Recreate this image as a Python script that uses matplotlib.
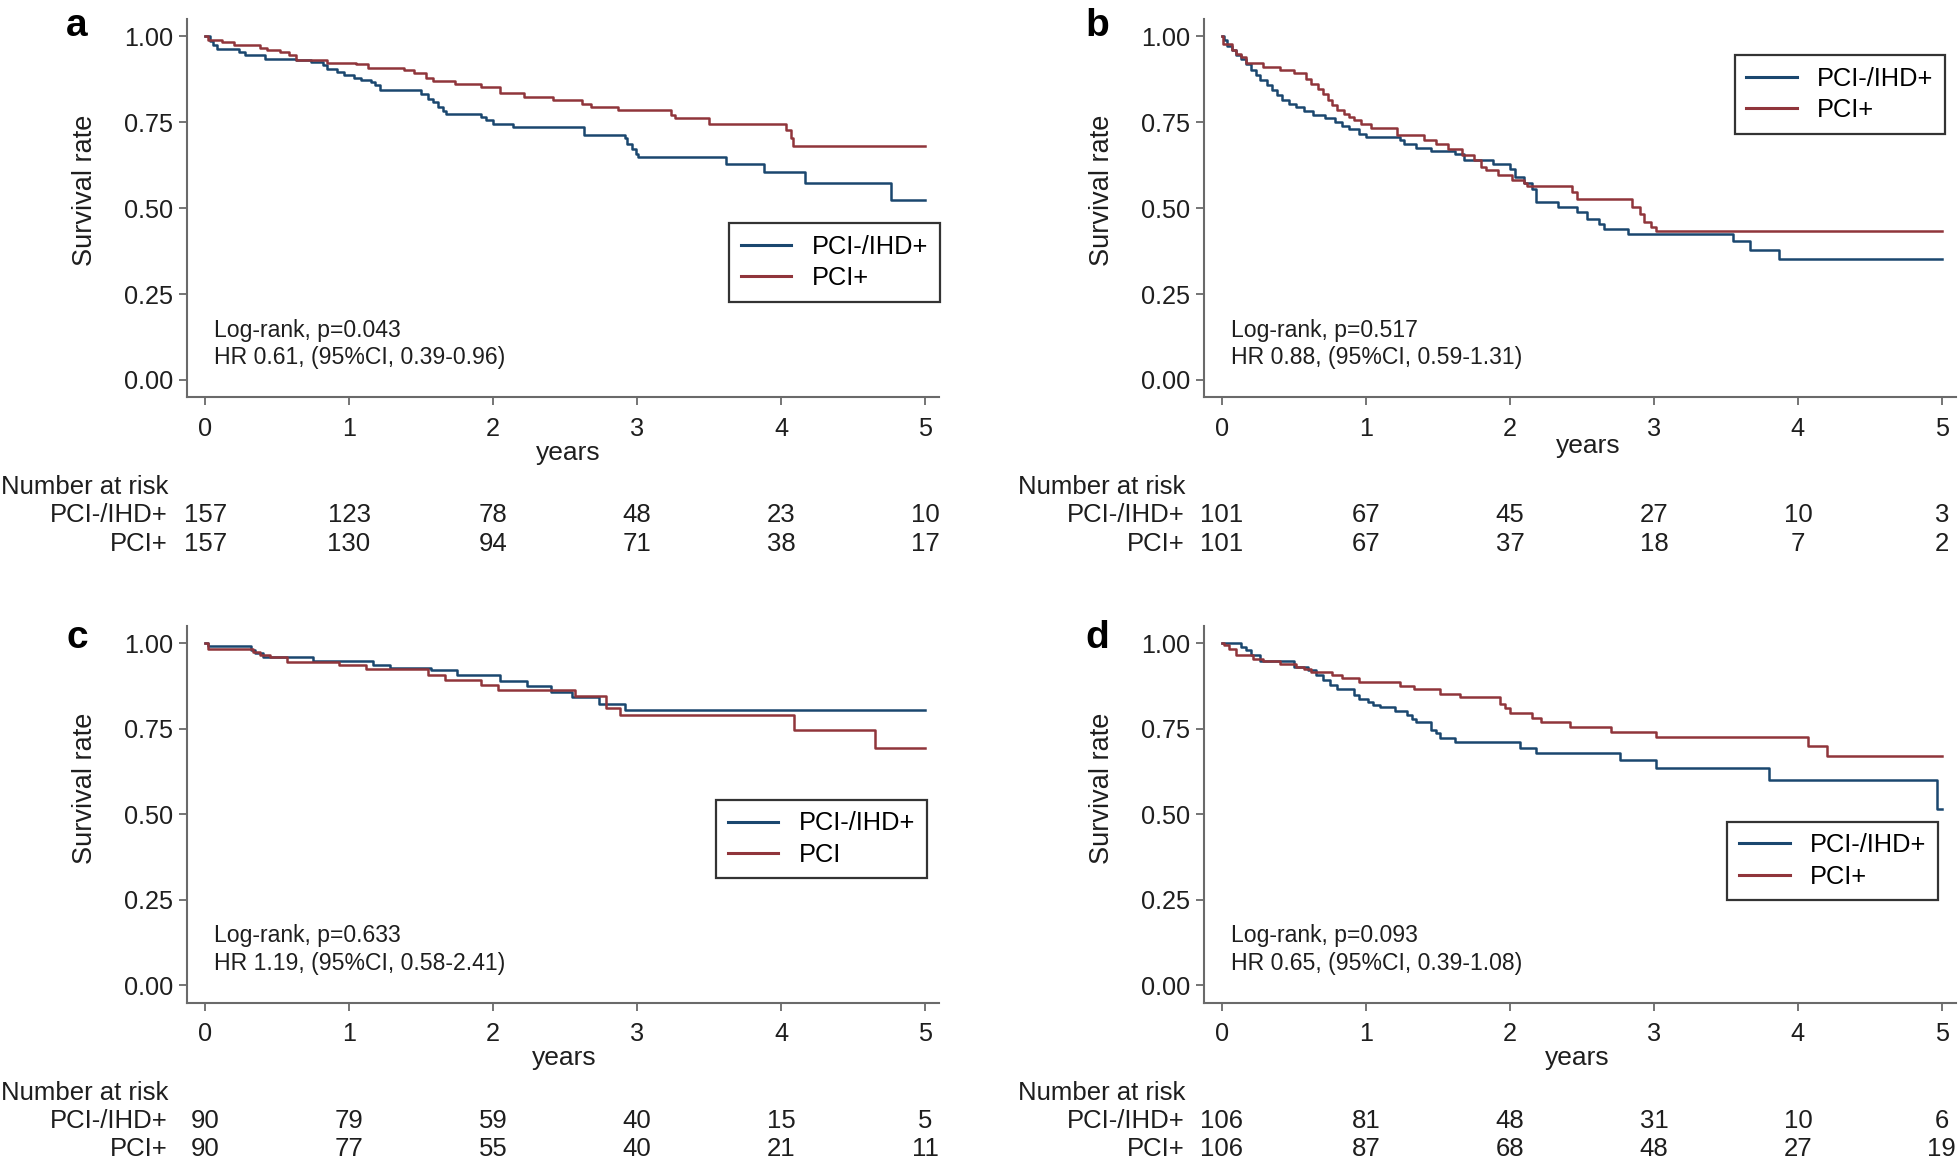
import matplotlib.pyplot as plt
from matplotlib.transforms import blended_transform_factory

plt.rcParams['font.family'] = ['Liberation Sans', 'DejaVu Sans']

BLUE = '#1a476f'
RED = '#90353b'

# ---- data (step times in years, survival after the step)
a_ihd_t = [0, 0.033, 0.057, 0.083, 0.233, 0.277, 0.417, 0.633, 0.733, 0.817, 0.85, 0.917, 0.967,
           1.033, 1.083, 1.15, 1.183, 1.217, 1.5, 1.55, 1.583, 1.617, 1.65, 1.673, 1.917, 1.95, 2.0,
           2.14, 2.633, 2.917, 2.933, 2.967, 2.99, 3.01, 3.617, 3.883, 4.167, 4.767, 5.0]
a_ihd_s = [1.0, 0.985, 0.975, 0.964, 0.954, 0.945, 0.935, 0.930, 0.925, 0.916, 0.906, 0.896, 0.887,
           0.880, 0.874, 0.867, 0.858, 0.843, 0.833, 0.819, 0.809, 0.795, 0.783, 0.773, 0.766, 0.756, 0.746,
           0.736, 0.714, 0.703, 0.688, 0.673, 0.659, 0.649, 0.628, 0.606, 0.572, 0.523, 0.523]
a_pci_t = [0, 0.017, 0.117, 0.2, 0.383, 0.433, 0.517, 0.583, 0.633, 0.85, 1.05, 1.133, 1.383, 1.45,
           1.533, 1.583, 1.733, 1.917, 2.05, 2.217, 2.417, 2.617, 2.683, 2.867, 3.233, 3.267, 3.5,
           4.033, 4.067, 4.083, 5.0]
a_pci_s = [1.0, 0.990, 0.984, 0.974, 0.966, 0.959, 0.953, 0.947, 0.930, 0.922, 0.918, 0.909, 0.901, 0.893,
           0.880, 0.869, 0.860, 0.853, 0.835, 0.824, 0.814, 0.804, 0.795, 0.785, 0.772, 0.761, 0.746,
           0.727, 0.703, 0.681, 0.681]

b_ihd_t = [0, 0.017, 0.033, 0.067, 0.1, 0.133, 0.167, 0.2, 0.233, 0.267, 0.31, 0.35, 0.383, 0.417,
           0.467, 0.517, 0.567, 0.633, 0.717, 0.783, 0.833, 0.883, 0.95, 1.0, 1.233, 1.267, 1.35, 1.45,
           1.617, 1.683, 1.883, 2.0, 2.033, 2.1, 2.15, 2.183, 2.333, 2.467, 2.533, 2.617, 2.65, 2.817,
           3.55, 3.667, 3.867, 5.0]
b_ihd_s = [1.0, 0.990, 0.973, 0.959, 0.945, 0.935, 0.920, 0.901, 0.887, 0.874, 0.858, 0.843, 0.828, 0.814,
           0.804, 0.793, 0.783, 0.770, 0.761, 0.751, 0.738, 0.729, 0.717, 0.707, 0.698, 0.686, 0.676, 0.667,
           0.657, 0.640, 0.628, 0.615, 0.591, 0.572, 0.557, 0.518, 0.502, 0.489, 0.467, 0.453, 0.438, 0.426,
           0.405, 0.378, 0.351, 0.351]
b_pci_t = [0, 0.01, 0.067, 0.1, 0.133, 0.167, 0.283, 0.4, 0.5, 0.583, 0.617, 0.667, 0.7, 0.733, 0.767,
           0.8, 0.85, 0.883, 0.917, 0.967, 1.033, 1.217, 1.4, 1.483, 1.567, 1.667, 1.75, 1.8, 1.833, 1.917,
           2.017, 2.1, 2.117, 2.433, 2.467, 2.85, 2.9, 2.933, 2.983, 3.017, 5.0]
b_pci_s = [1.0, 0.979, 0.961, 0.950, 0.940, 0.922, 0.911, 0.901, 0.893, 0.877, 0.862, 0.848, 0.831, 0.814, 0.800,
           0.787, 0.775, 0.766, 0.756, 0.746, 0.734, 0.712, 0.698, 0.686, 0.673, 0.656, 0.641, 0.620, 0.610, 0.596,
           0.581, 0.574, 0.564, 0.547, 0.526, 0.504, 0.484, 0.460, 0.446, 0.433, 0.433]

c_ihd_t = [0, 0.017, 0.317, 0.35, 0.4, 0.75, 1.167, 1.283, 1.567, 1.75, 2.05, 2.233, 2.4, 2.55, 2.733,
           2.917, 5.0]
c_ihd_s = [1.0, 0.993, 0.980, 0.970, 0.959, 0.948, 0.936, 0.927, 0.922, 0.907, 0.890, 0.874, 0.858, 0.843,
           0.822, 0.805, 0.805]
c_pci_t = [0, 0.017, 0.333, 0.383, 0.45, 0.567, 0.933, 1.117, 1.55, 1.667, 1.917, 2.033, 2.567, 2.783,
           2.883, 4.09, 4.65, 5.0]
c_pci_s = [1.0, 0.983, 0.975, 0.965, 0.959, 0.946, 0.936, 0.924, 0.907, 0.892, 0.877, 0.863, 0.846, 0.810,
           0.790, 0.746, 0.693, 0.693]

d_ihd_t = [0, 0.133, 0.167, 0.2, 0.267, 0.5, 0.6, 0.65, 0.7, 0.75, 0.8, 0.917, 0.95, 1.017, 1.05, 1.1,
           1.2, 1.283, 1.317, 1.35, 1.45, 1.483, 1.517, 1.617, 2.067, 2.183, 2.767, 3.017, 3.8, 4.967, 5.0]
d_ihd_s = [1.0, 0.990, 0.980, 0.965, 0.948, 0.931, 0.922, 0.907, 0.892, 0.878, 0.865, 0.849, 0.837, 0.827,
           0.819, 0.814, 0.802, 0.790, 0.780, 0.769, 0.746, 0.737, 0.722, 0.710, 0.693, 0.678, 0.659, 0.634,
           0.600, 0.516, 0.516]
d_pci_t = [0, 0.017, 0.05, 0.1, 0.217, 0.283, 0.4, 0.517, 0.567, 0.617, 0.767, 0.833, 0.95, 1.233, 1.333,
           1.517, 1.65, 1.933, 1.967, 2.0, 2.15, 2.217, 2.417, 2.7, 3.017, 4.067, 4.2, 5.0]
d_pci_s = [1.0, 0.994, 0.984, 0.967, 0.955, 0.948, 0.938, 0.931, 0.924, 0.917, 0.907, 0.897, 0.886, 0.876,
           0.866, 0.853, 0.844, 0.821, 0.810, 0.795, 0.782, 0.769, 0.756, 0.741, 0.727, 0.701, 0.671, 0.671]

# number at risk
risk_years = [0, 1, 2, 3, 4, 5]
a_risk_ihd = [157, 123, 78, 48, 23, 10]
a_risk_pci = [157, 130, 94, 71, 38, 17]
b_risk_ihd = [101, 67, 45, 27, 10, 3]
b_risk_pci = [101, 67, 37, 18, 7, 2]
c_risk_ihd = [90, 79, 59, 40, 15, 5]
c_risk_pci = [90, 77, 55, 40, 21, 11]
d_risk_ihd = [106, 81, 48, 31, 10, 6]
d_risk_pci = [106, 87, 68, 48, 27, 19]

stats_a = ['Log-rank, p=0.043', 'HR 0.61, (95%CI, 0.39-0.96)']
stats_b = ['Log-rank, p=0.517', 'HR 0.88, (95%CI, 0.59-1.31)']
stats_c = ['Log-rank, p=0.633', 'HR 1.19, (95%CI, 0.58-2.41)']
stats_d = ['Log-rank, p=0.093', 'HR 0.65, (95%CI, 0.39-1.08)']

legend_a = ['PCI-/IHD+', 'PCI+']
legend_b = ['PCI-/IHD+', 'PCI+']
legend_c = ['PCI-/IHD+', 'PCI']
legend_d = ['PCI-/IHD+', 'PCI+']
row_labels = ['PCI-/IHD+', 'PCI+']

W, H = 1959, 1174
fig = plt.figure(figsize=(W / 100, H / 100), dpi=100)
TXT = '#1e1e1e'


def panel(rect, letter, letter_xy, ihd, pci, risk, stats, labels, leg_xy,
          ylab_y, xlab_xy, table_base):
    ax = fig.add_axes(rect)
    ax.step(ihd[0], ihd[1], where='post', color=BLUE, lw=1.8, label=labels[0])
    ax.step(pci[0], pci[1], where='post', color=RED, lw=1.8, label=labels[1])
    ax.set_xlim(-0.125, 5.1)
    ax.set_ylim(-0.05, 1.05)
    ax.set_xticks(risk_years)
    ax.set_yticks([0, 0.25, 0.5, 0.75, 1.0])
    ax.set_yticklabels(['0.00', '0.25', '0.50', '0.75', '1.00'])
    for s in ['top', 'right']:
        ax.spines[s].set_visible(False)
    for s in ['left', 'bottom']:
        ax.spines[s].set_color('#6a6a6a')
        ax.spines[s].set_linewidth(1.5)
    ax.tick_params(direction='out', length=6, width=1.3, color='#6a6a6a',
                   labelsize=18.2, labelcolor=TXT)
    ax.tick_params(axis='y', pad=4)
    ax.tick_params(axis='x', pad=8)

    ax.set_ylabel('Survival rate', fontsize=19.5, color=TXT)
    ax.yaxis.label.set_va('center')
    ax.yaxis.set_label_coords(-0.136, ylab_y)
    ax.set_xlabel('years', fontsize=19, color=TXT)
    ax.xaxis.label.set_va('center')
    ax.xaxis.set_label_coords(*xlab_xy)

    ax.text(0.063, 0.126, stats[0], fontsize=16.6, va='baseline', ha='left', color=TXT)
    ax.text(0.063, 0.046, stats[1], fontsize=16.6, va='baseline', ha='left', color=TXT)

    leg = ax.legend(loc='upper left', bbox_to_anchor=leg_xy, bbox_transform=ax.transData,
                    borderaxespad=0, fontsize=18.3, handlelength=2.0, handletextpad=0.8,
                    borderpad=0.45, labelspacing=0.3, fancybox=False, framealpha=1)
    leg.get_frame().set_edgecolor('#333333')
    leg.get_frame().set_linewidth(1.6)
    for line in leg.get_lines():
        line.set_linewidth(2.2)

    fig.text(letter_xy[0] / W, 1 - letter_xy[1] / H, letter, fontsize=28,
             fontweight='bold', ha='center', va='baseline')

    tr = blended_transform_factory(ax.transData, fig.transFigure)
    y0, y1, y2 = [1 - v / H for v in table_base]
    ax.text(-1.42, y0, 'Number at risk', transform=tr, fontsize=18.5,
            ha='left', va='baseline', clip_on=False, color=TXT)
    ax.text(-0.26, y1, row_labels[0], transform=tr, fontsize=18.5,
            ha='right', va='baseline', clip_on=False, color=TXT)
    ax.text(-0.26, y2, row_labels[1], transform=tr, fontsize=18.5,
            ha='right', va='baseline', clip_on=False, color=TXT)
    for yr, n1, n2 in zip(risk_years, risk[0], risk[1]):
        ax.text(yr, y1, str(n1), transform=tr, fontsize=18.5, ha='center',
                va='baseline', clip_on=False, color=TXT)
        ax.text(yr, y2, str(n2), transform=tr, fontsize=18.5, ha='center',
                va='baseline', clip_on=False, color=TXT)
    return ax


top_row = [494.0, 522.2, 550.8]
bot_row = [1099.5, 1127.7, 1156.3]

panel([0.0955, 0.6617, 0.3840, 0.3220], 'a', (77, 36),
      (a_ihd_t, a_ihd_s), (a_pci_t, a_pci_s), (a_risk_ihd, a_risk_pci), stats_a, legend_a,
      (3.64, 0.456), 0.546, (0.507, -0.148), top_row)
panel([0.6146, 0.6617, 0.3840, 0.3220], 'b', (1097, 36),
      (b_ihd_t, b_ihd_s), (b_pci_t, b_pci_s), (b_risk_ihd, b_risk_pci), stats_b, legend_b,
      (3.56, 0.945), 0.546, (0.511, -0.128), top_row)
panel([0.0955, 0.1460, 0.3840, 0.3207], 'c', (77, 648),
      (c_ihd_t, c_ihd_s), (c_pci_t, c_pci_s), (c_risk_ihd, c_risk_pci), stats_c, legend_c,
      (3.55, 0.542), 0.568, (0.502, -0.147), bot_row)
panel([0.6146, 0.1460, 0.3840, 0.3207], 'd', (1097, 648),
      (d_ihd_t, d_ihd_s), (d_pci_t, d_pci_s), (d_risk_ihd, d_risk_pci), stats_d, legend_d,
      (3.51, 0.478), 0.568, (0.496, -0.147), bot_row)

fig.savefig('out.png', dpi=100)
